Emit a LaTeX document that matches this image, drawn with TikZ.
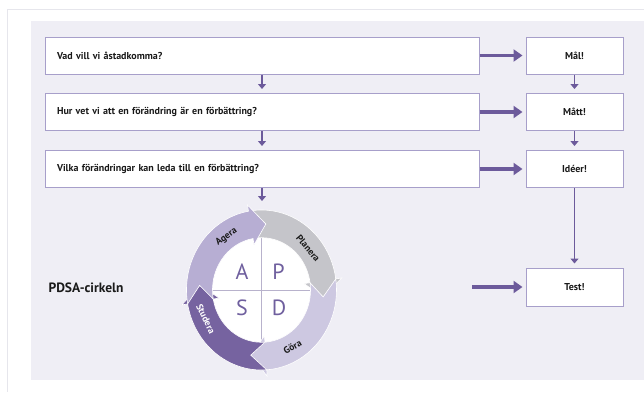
\documentclass[tikz,border=0pt]{standalone}
\usepackage{fontspec}
\setmainfont{PT Sans}
\usetikzlibrary{arrows.meta}
\definecolor{panel}{HTML}{EFEEF5}
\definecolor{frameline}{HTML}{E6E6EC}
\definecolor{boxline}{HTML}{A79FCA}
\definecolor{arr}{HTML}{6C5A9B}
\definecolor{txt}{HTML}{1A1A1A}
\definecolor{ageracol}{HTML}{B7AED3}
\definecolor{planeracol}{HTML}{C5C5CA}
\definecolor{goracol}{HTML}{CDC8E1}
\definecolor{studeracol}{HTML}{7663A0}
\definecolor{lettercol}{HTML}{6F5F9E}
\definecolor{crossline}{HTML}{B8B2CC}
\newcommand\pdsaarrow[4]{%
  \fill[#1, draw=white, line width=0.6pt]
    (#2:49) -- ({#2-14}:62) -- (#2:75)
    arc[start angle=#2, end angle=#3, radius=75]
    -- (#3:81) -- (#4:62) -- (#3:43) -- (#3:49)
    arc[start angle=#3, end angle=#2, radius=49] -- cycle;}
\begin{document}
\begin{tikzpicture}[x=1pt,y=1pt,
  qbox/.style={draw=boxline, line width=1pt, fill=white, minimum height=37pt,
    text width=410pt, inner xsep=12pt, align=left,
    font=\bfseries\fontsize{10}{12}\selectfont, text=txt},
  abox/.style={draw=boxline, line width=1pt, fill=white, minimum height=37pt,
    minimum width=97pt, inner sep=0pt,
    font=\bfseries\fontsize{10}{12}\selectfont, text=txt},
  bigarrow/.style={draw=arr, line width=3.5pt, -{Triangle[length=9pt,width=12pt]}, shorten >=3pt},
  smallarrow/.style={draw=arr, line width=1.2pt, -{Triangle[length=5pt,width=8pt]}, shorten >=4pt},
  letter/.style={font=\fontsize{22}{22}\selectfont, text=lettercol, inner sep=0pt},
  arclabel/.style={font=\bfseries\fontsize{9.5}{10}\selectfont, text=txt, inner sep=0pt}
]
\useasboundingbox (0,0) rectangle (644,392);
\fill[white] (0,0) rectangle (644,392);
\draw[frameline, line width=0.8pt] (7,0) -- (7,383) -- (644,383);
\fill[panel] (31,12) rectangle (644,371);

% question boxes
\node[qbox] (q1) at (262,336.5) {Vad vill vi åstadkomma?};
\node[qbox] (q2) at (262,280) {Hur vet vi att en förändring är en förbättring?};
\node[qbox] (q3) at (262,223) {Vilka förändringar kan leda till en förbättring?};
% answer boxes
\node[abox] (m1) at (574.5,336.5) {Mål!};
\node[abox] (m2) at (574.5,280) {Mått!};
\node[abox] (m3) at (574.5,223) {Idéer!};
\node[abox, minimum height=38pt] (test) at (574.5,105) {Test!};

\node[anchor=west, font=\bfseries\fontsize{13.5}{15}\selectfont, text=txt] (pdsa) at (45,104) {PDSA-cirkeln};

% connectors
\draw[bigarrow] (q1.east) -- (m1.west);
\draw[bigarrow] (q2.east) -- (m2.west);
\draw[bigarrow] (q3.east) -- (m3.west);
\draw[smallarrow] (q1.south) -- (q2.north);
\draw[smallarrow] (q2.south) -- (q3.north);
\draw[smallarrow] (m1.south) -- (m2.north);
\draw[smallarrow] (m2.south) -- (m3.north);
\draw[smallarrow] (m3.south) -- (test.north);
\coordinate (cin) at (262,191);
\draw[smallarrow, shorten >=0pt] (q3.south) -- (cin);
\coordinate (pin) at (472,105);
\draw[bigarrow] (pin) -- (test.west);

% PDSA circle
\coordinate (C) at (261.5,102);
\begin{scope}[shift={(C)}, yscale=1.067]
  \fill[white] (0,0) circle (49.5);
  \draw[crossline, line width=0.8pt] (0,-49.5) -- (0,49.5) (-49.5,0) -- (49.5,0);
  \pdsaarrow{planeracol}{100}{8}{-6}
  \pdsaarrow{goracol}{8}{-86}{-100}
  \pdsaarrow{studeracol}{-86}{-170}{-184}
  \pdsaarrow{ageracol}{190}{100}{86}
\end{scope}

\node[letter] (la) at ([shift={(-19.5,18)}]C) {A};
\node[letter] (lp) at ([shift={(17,18)}]C) {P};
\node[letter] (ls) at ([shift={(-19.5,-18)}]C) {S};
\node[letter] (ld) at ([shift={(17.5,-18)}]C) {D};

\node[arclabel, rotate=35] (lagera) at ([shift={(125:61 and 65)}]C) {Agera};
\node[arclabel, rotate=-50] (lplanera) at ([shift={(40:61 and 65)}]C) {Planera};
\node[arclabel, rotate=30] (lgora) at ([shift={(-60:62 and 66)}]C) {Göra};
\node[arclabel, rotate=-64, text=white] (lstudera) at ([shift={(-154:62 and 66)}]C) {Studera};
\end{tikzpicture}
\end{document}
